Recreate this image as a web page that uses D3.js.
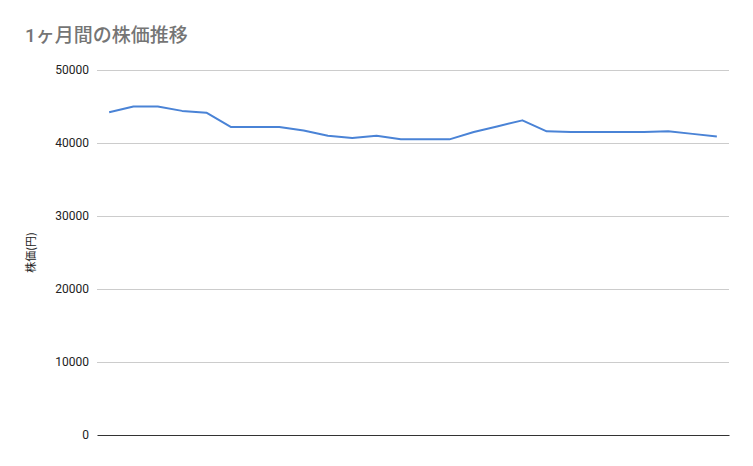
<!DOCTYPE html>
<html><head><meta charset="utf-8">
<script src="https://cdn.jsdelivr.net/npm/d3@7"></script>
<style>body{margin:0;background:#fff;} svg{display:block;}</style>
</head><body>
<svg id="c" width="753" height="466"></svg>
<script>
const title = "1ヶ月間の株価推移";
const yTitle = "株価(円)";
const days = d3.range(1, 27).map(d => "D" + d);
const prices = [44200, 45000, 45000, 44400, 44150, 42200, 42200, 42200, 41700, 41000, 40700, 41000, 40500, 40500, 40500, 41500, 42300, 43100, 41600, 41500, 41500, 41500, 41500, 41600, 41250, 40900];
const yTicks = [0, 10000, 20000, 30000, 40000, 50000];

const svg = d3.select("#c");
const m = {l: 97, r: 24, t: 70, b: 31};
const W = 753, H = 466;
const x = d3.scalePoint().domain(days).range([m.l, W - m.r]).padding(0.5);
const y = d3.scaleLinear().domain([0, 50000]).range([H - m.b, m.t]);

svg.append("text").attr("x", 25).attr("y", 42).text(title)
  .attr("font-family", "Roboto, 'Noto Sans CJK JP', sans-serif").attr("font-size", 19)
  .attr("fill", "#757575").attr("font-weight", 500);

const ya = svg.append("g").attr("transform", `translate(${m.l},0)`)
  .call(d3.axisLeft(y).tickValues(yTicks).tickSize(-(W - m.r - m.l)).tickPadding(8).tickFormat(d3.format("d")));
ya.select(".domain").remove();
ya.selectAll(".tick line").attr("stroke", "#cccccc");
ya.selectAll(".tick text").attr("font-family", "Roboto, sans-serif").attr("font-size", 12).attr("fill", "#222");
ya.selectAll(".tick").filter(d => d === 0).select("line").remove();

svg.append("g").attr("transform", `translate(0,${y(0)})`)
  .call(d3.axisBottom(x).tickSize(0).tickFormat(""))
  .select(".domain").attr("stroke", "#333").attr("stroke-width", 1.2);

svg.append("text").attr("transform", `translate(35,${(y(0)+y(50000))/2}) rotate(-90)`)
  .attr("text-anchor", "middle").text(yTitle)
  .attr("font-family", "'Noto Sans CJK JP', sans-serif").attr("font-size", 11).attr("fill", "#222");

svg.append("path").datum(prices)
  .attr("fill", "none").attr("stroke", "#4a83d6").attr("stroke-width", 2).attr("stroke-linejoin", "round")
  .attr("d", d3.line().x((d, i) => x(days[i])).y(d => y(d)));
</script>
</body></html>
